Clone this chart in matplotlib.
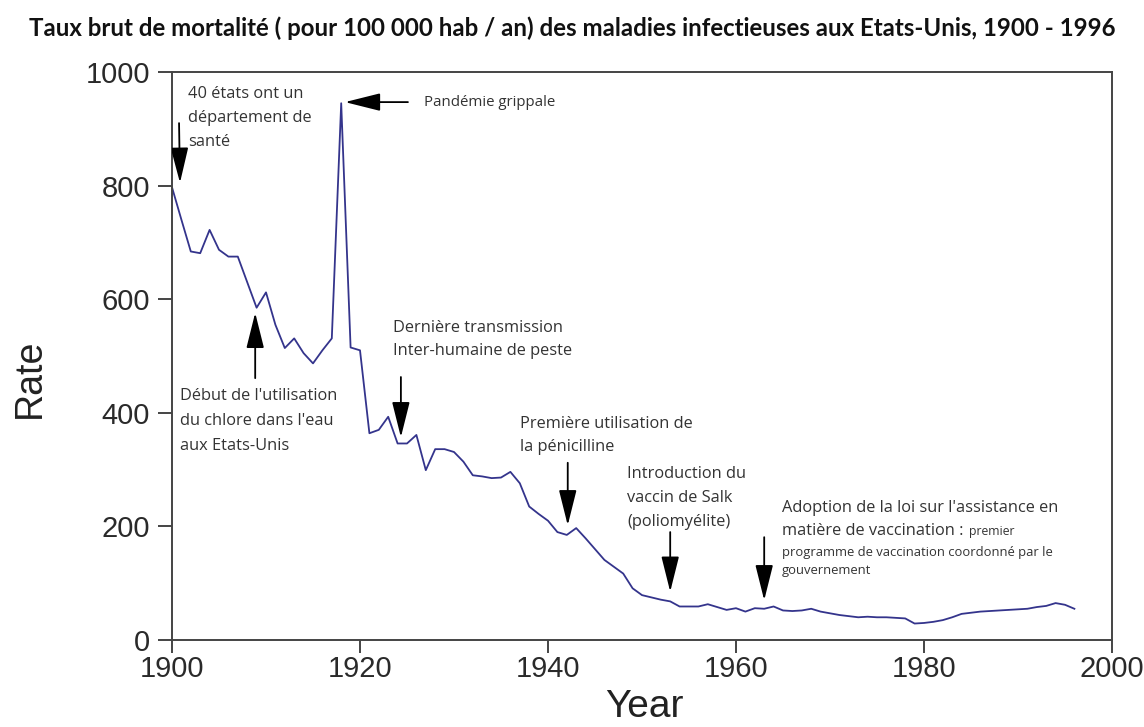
import matplotlib
matplotlib.use("Agg")
import matplotlib.pyplot as plt
from matplotlib import font_manager
from matplotlib.patches import FancyArrowPatch

# Crude death rate from infectious diseases, per 100 000 population per year
years = list(range(1900, 1997))
rate = [
    797, 740, 684, 681, 722, 687, 675, 675, 630, 585,   # 1900-1909
    612, 555, 514, 531, 505, 487, 510, 531, 945, 515,   # 1910-1919
    510, 364, 370, 393, 346, 346, 361, 299, 336, 336,   # 1920-1929
    331, 314, 290, 288, 285, 286, 296, 276, 235, 222,   # 1930-1939
    210, 190, 185, 197, 179, 160, 141, 129, 117, 91,    # 1940-1949
    79, 75, 71, 68, 59, 59, 59, 63, 58, 53,             # 1950-1959
    56, 50, 56, 55, 59, 52, 51, 52, 55, 50,             # 1960-1969
    47, 44, 42, 40, 41, 40, 40, 39, 38, 29,             # 1970-1979
    30, 32, 35, 40, 46, 48, 50, 51, 52, 53,             # 1980-1989
    54, 55, 58, 60, 65, 62, 55,                         # 1990-1996
]

title = ("Taux brut de mortalité ( pour 100 000 hab / an) des maladies "
         "infectieuses aux Etats-Unis, 1900 - 1996")
x_label = "Year"
y_label = "Rate"
x_ticks = [1900, 1920, 1940, 1960, 1980, 2000]
y_ticks = [0, 200, 400, 600, 800, 1000]

note_state_health = ["40 états ont un", "département de", "santé"]
note_flu = ["Pandémie grippale"]
note_chlorine = ["Début de l'utilisation", "du chlore dans l'eau", "aux Etats-Unis"]
note_plague = ["Dernière transmission", "Inter-humaine de peste"]
note_penicillin = ["Première utilisation de", "la pénicilline"]
note_salk = ["Introduction du", "vaccin de Salk", "(poliomyélite)"]
note_vacc_line1 = "Adoption de la loi sur l'assistance en"
note_vacc_line2 = "matière de vaccination :"
note_vacc_small = "premier"
note_vacc_fine = ["programme de vaccination coordonné par le", "gouvernement"]


def first_font(*names):
    available = {f.name for f in font_manager.fontManager.ttflist}
    for name in names:
        if name in available:
            return name
    return "DejaVu Sans"


AXIS_FONT = first_font("Liberation Sans Narrow", "Liberation Sans")
NOTE_FONT = first_font("Open Sans", "Lato")
TITLE_FONT = first_font("Lato", "Open Sans")

W, H, DPI = 1144, 727, 100
fig = plt.figure(figsize=(W / DPI, H / DPI), dpi=DPI)
ax = fig.add_axes([172 / W, 1 - 640 / H, (1112 - 172) / W, (640 - 72) / H])

ax.plot(years, rate, color="#34348c", lw=1.3)

ax.set_xlim(1900, 2000)
ax.set_ylim(0, 1000)
ax.set_xticks(x_ticks)
ax.set_yticks(y_ticks)
ax.set_xticklabels([str(t) for t in x_ticks], family=AXIS_FONT, fontsize=21, color="#2a2a2a")
ax.set_yticklabels([str(t) for t in y_ticks], family=AXIS_FONT, fontsize=21, color="#2a2a2a")
ax.tick_params(axis="y", direction="out", length=10, width=1.4, color="#444444", pad=6)
ax.tick_params(axis="x", direction="out", length=9, width=1.4, color="#444444", pad=2)
for sp in ax.spines.values():
    sp.set_color("#444444")
    sp.set_linewidth(1.4)

fig.text(30 / W, 1 - 378 / H, y_label, rotation=90, ha="center", va="center",
         family=AXIS_FONT, fontsize=27, color="#222222")
fig.text(644 / W, 1 - 707 / H, x_label, ha="center", va="center",
         family=AXIS_FONT, fontsize=28, color="#222222")

t = fig.text(0.5, 1 - 28 / H, title, ha="center", va="center",
             family=TITLE_FONT, fontweight="bold", fontsize=12, color="#111111")
fig.canvas.draw()
t.set_fontsize(12 * 1080 / t.get_window_extent().width)

NOTE_COLOR = "#333333"
NOTE_SIZE = 11.8


def note(lines, x, y, step_pt=17.3, size=NOTE_SIZE):
    """Write lines of annotation text, first line centred vertically on (x, y)."""
    for i, line in enumerate(lines):
        ax.annotate(line, xy=(x, y), xytext=(0, -i * step_pt), textcoords="offset points",
                    ha="left", va="center", family=NOTE_FONT, fontsize=size,
                    color=NOTE_COLOR)


def arrow(x0, y0, x1, y1):
    ax.add_patch(FancyArrowPatch((x0, y0), (x1, y1),
                                 arrowstyle="-|>,head_length=2.2,head_width=0.55",
                                 mutation_scale=10, lw=1.3, color="black",
                                 shrinkA=0, shrinkB=0, zorder=5))


note(note_state_health, 1901.7, 961)
arrow(1900.75, 910, 1900.85, 805)

note(note_flu, 1926.8, 947, size=10.8)
arrow(1925.1, 947, 1918.4, 947)

note(note_chlorine, 1900.85, 429, step_pt=18)
arrow(1908.85, 461, 1908.85, 576)

note(note_plague, 1923.5, 549, step_pt=16.5)
arrow(1924.35, 463, 1924.35, 357)

note(note_penicillin, 1937.0, 380, step_pt=16.5)
arrow(1942.1, 312, 1942.1, 202)

note(note_salk, 1948.4, 292, step_pt=17.3)
arrow(1953.0, 190, 1953.0, 85)

note([note_vacc_line1], 1964.9, 232)
l2 = ax.annotate(note_vacc_line2, xy=(1964.9, 232), xytext=(0, -16.5), textcoords="offset points",
                 ha="left", va="center", family=NOTE_FONT, fontsize=NOTE_SIZE, color=NOTE_COLOR)
ax.annotate(note_vacc_small, xy=(1, 0.45), xycoords=l2, xytext=(4, 0), textcoords="offset points",
            ha="left", va="center", family=NOTE_FONT, fontsize=8.8, color=NOTE_COLOR)
for i, line in enumerate(note_vacc_fine):
    ax.annotate(line, xy=(1964.9, 232), xytext=(0, -32 - i * 13), textcoords="offset points",
                ha="left", va="center", family=NOTE_FONT, fontsize=9.4, color=NOTE_COLOR)
arrow(1963.0, 181, 1963.0, 70)

fig.savefig("out.png", dpi=DPI)
